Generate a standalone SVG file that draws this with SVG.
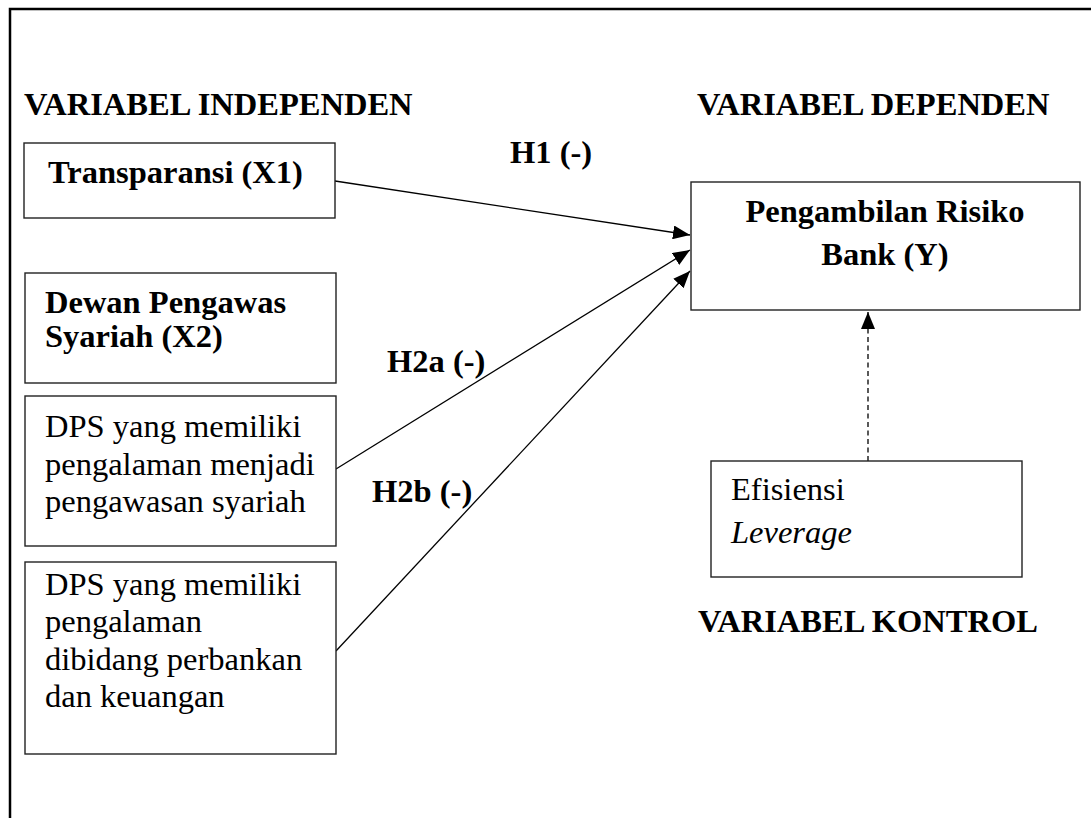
<svg xmlns="http://www.w3.org/2000/svg" width="1091" height="818" viewBox="0 0 1091 818">
<style>
.frame{fill:none;stroke:#000;stroke-width:2.5}
.box{fill:#fff;stroke:#222;stroke-width:1.4}
.t{font-family:"Liberation Serif","Times New Roman",serif;font-size:32.5px;fill:#000}
.b{font-weight:bold}
.i{font-style:italic}
.c{stroke:#000;stroke-width:1.3;fill:none}
.d{stroke-dasharray:5 3.5}
</style>
<defs>
<marker id="ah" markerWidth="17" markerHeight="14" refX="17" refY="7" orient="auto" markerUnits="userSpaceOnUse">
<path d="M0,0 L17,7 L0,14 Z" fill="#000"/>
</marker>
</defs>
<rect width="1091" height="818" fill="#fff"/>
<path class="frame" d="M10,818 L10,9 L1091,9"/>
<text class="t b" x="24" y="115">VARIABEL INDEPENDEN</text>
<text class="t b" x="697" y="115">VARIABEL DEPENDEN</text>
<text class="t b" x="698" y="632">VARIABEL KONTROL</text>
<g id="connectors">
<line class="c" x1="335" y1="181" x2="690" y2="235" marker-end="url(#ah)"/>
<line class="c" x1="336" y1="469" x2="690" y2="250" marker-end="url(#ah)"/>
<line class="c" x1="336" y1="651" x2="690" y2="271" marker-end="url(#ah)"/>
<line class="c d" x1="868" y1="461" x2="868" y2="312" marker-end="url(#ah)"/>
<text class="t b" x="510" y="163">H1 (-)</text>
<text class="t b" x="387" y="372">H2a (-)</text>
<text class="t b" x="372" y="502">H2b (-)</text>
</g>
<g id="x1">
<rect class="box" x="24" y="143" width="311" height="75"/>
<text class="t b" x="48" y="183">Transparansi (X1)</text>
</g>
<g id="x2">
<rect class="box" x="25" y="273" width="311" height="110"/>
<text class="t b" x="45" y="313">Dewan Pengawas</text>
<text class="t b" x="45" y="347">Syariah (X2)</text>
</g>
<g id="x2a">
<rect class="box" x="25" y="396" width="311" height="150"/>
<text class="t" x="45" y="437">DPS yang memiliki</text>
<text class="t" x="45" y="475">pengalaman menjadi</text>
<text class="t" x="45" y="512">pengawasan syariah</text>
</g>
<g id="x2b">
<rect class="box" x="25" y="562" width="311" height="192"/>
<text class="t" x="45" y="595">DPS yang memiliki</text>
<text class="t" x="45" y="632">pengalaman</text>
<text class="t" x="45" y="670">dibidang perbankan</text>
<text class="t" x="45" y="707">dan keuangan</text>
</g>
<g id="y">
<rect class="box" x="691" y="182" width="389" height="128"/>
<text class="t b" x="885" y="222" text-anchor="middle">Pengambilan Risiko</text>
<text class="t b" x="885" y="265" text-anchor="middle">Bank (Y)</text>
</g>
<g id="control">
<rect class="box" x="711" y="461" width="311" height="116"/>
<text class="t" x="731" y="500">Efisiensi</text>
<text class="t i" x="731" y="543">Leverage</text>
</g>
</svg>
